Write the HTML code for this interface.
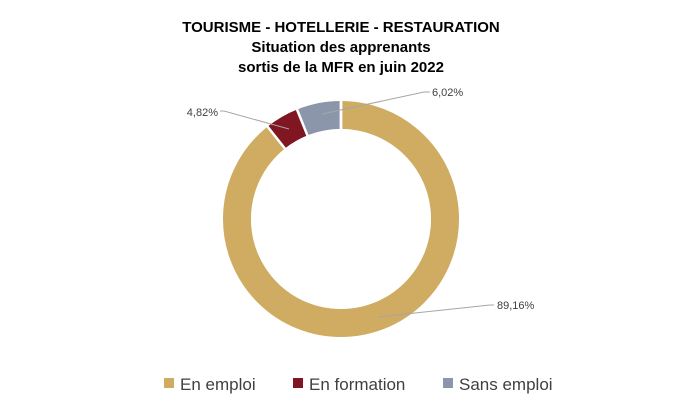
<!DOCTYPE html>
<html><head><meta charset="utf-8"><style>
body{margin:0;background:#fff;width:681px;height:410px;overflow:hidden;font-family:"Liberation Sans",sans-serif}
</style></head><body>
<svg width="681" height="410" xmlns="http://www.w3.org/2000/svg">
<g font-family="Liberation Sans, sans-serif" font-weight="bold" font-size="15" text-anchor="middle" fill="#000">
<text x="341" y="32">TOURISME - HOTELLERIE - RESTAURATION</text>
<text x="341" y="52">Situation des apprenants</text>
<text x="341" y="72">sortis de la MFR en juin 2022</text>
</g>
<g transform="rotate(-90 341 219)" fill="none" stroke-width="28">
<circle cx="341" cy="219" r="104" stroke="#CFAC61" stroke-dasharray="582.6 653.45"/>
<circle cx="341" cy="219" r="104" stroke="#7F1622" stroke-dasharray="0 582.6 31.5 653.45"/>
<circle cx="341" cy="219" r="104" stroke="#8C96AA" stroke-dasharray="0 614.1 39.35 653.45"/>
</g>
<g stroke="#fff" stroke-width="2.5">
<line x1="341" y1="219" x2="341" y2="98"/>
<line x1="341" y1="219" x2="296" y2="107"/>
<line x1="341" y1="219" x2="267" y2="126"/>
<line x1="341" y1="219" x2="341" y2="98"/>
</g>
<circle cx="341" cy="219" r="90" fill="#fff"/>
<g stroke="#a6a6a6" stroke-width="1" fill="none">
<polyline points="322,114 424,92 430,92"/>
<polyline points="289,129 224,111 220,111"/>
<polyline points="378,317 490,305 494,305"/>
</g>
<g font-size="11" fill="#404040">
<text x="432" y="96">6,02%</text>
<text x="218" y="116" text-anchor="end">4,82%</text>
<text x="497" y="309">89,16%</text>
</g>
<g font-size="17" fill="#404040">
<rect x="164" y="378" width="10" height="10" fill="#CFAC61"/>
<text x="180" y="390">En emploi</text>
<rect x="293" y="378" width="10" height="10" fill="#7F1622"/>
<text x="309" y="390">En formation</text>
<rect x="443" y="378" width="10" height="10" fill="#8C96AA"/>
<text x="459" y="390">Sans emploi</text>
</g>
</svg>
</body></html>
